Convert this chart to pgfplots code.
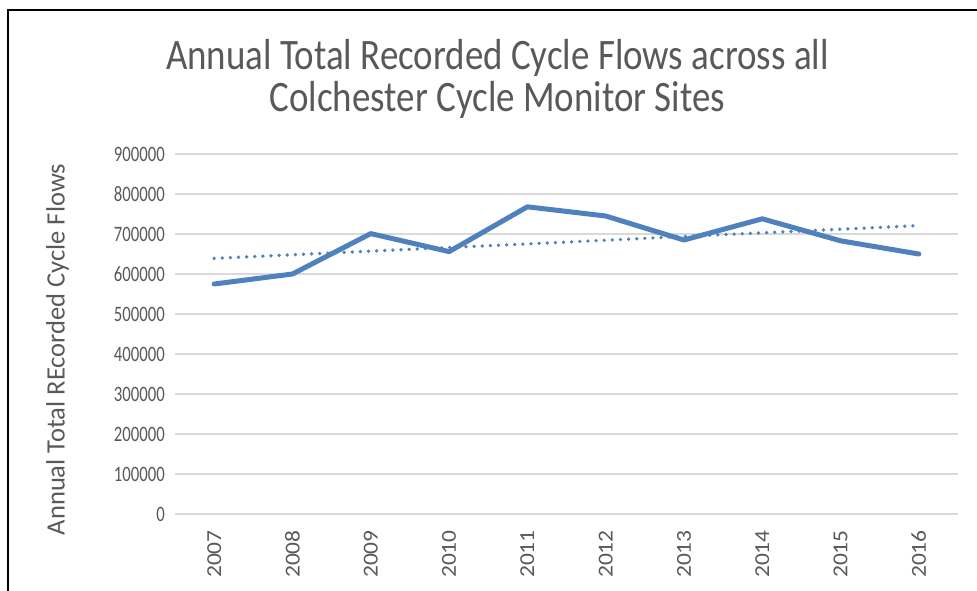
\documentclass[border=0pt]{standalone}
\usepackage{pgfplots}
\pgfplotsset{compat=1.18}
\usepackage{fontspec}
\setmainfont{Carlito}
\newfontfamily\titlefont[FakeStretch=0.85]{Carlito}
\newfontfamily\yfont[FakeStretch=0.76]{Carlito}
\newfontfamily\xfont[FakeStretch=1.1]{Carlito}
\definecolor{txt}{HTML}{595959}
\definecolor{ln}{HTML}{4F81BD}
\definecolor{grd}{HTML}{D9D9D9}
\pgfplotstableread{
x y
0 575000
1 600000
2 701000
3 656000
4 768000
5 745000
6 685000
7 738000
8 683000
9 650000
}\flows
\pgfplotstableread{
x y
0 639000
9 721000
}\trend
\begin{document}
\begin{tikzpicture}
\useasboundingbox (0pt,0pt) rectangle (732.75pt,442.5pt);
\draw[black, line width=1.6pt] (6pt,-30pt) rectangle (760pt,435pt);
\node[anchor=base, text=txt, font=\titlefont\fontsize{32.6pt}{34pt}\selectfont] at (373.1pt,390pt) {Annual Total Recorded Cycle Flows across all};
\node[anchor=base, text=txt, font=\titlefont\fontsize{32.6pt}{34pt}\selectfont] at (373.1pt,358.5pt) {Colchester Cycle Monitor Sites};
\node[rotate=90, text=txt, font=\fontsize{19.9pt}{22pt}\selectfont] at (43.1pt,180.4pt) {Annual Total REcorded Cycle Flows};
\begin{axis}[
  at={(131.25pt,57pt)}, anchor=south west,
  scale only axis, width=587.25pt, height=270pt,
  xmin=-0.5, xmax=9.5, ymin=0, ymax=900000,
  xtick={0,...,9},
  xticklabels={2007,2008,2009,2010,2011,2012,2013,2014,2015,2016},
  ytick={0,100000,200000,300000,400000,500000,600000,700000,800000,900000},
  scaled y ticks=false,
  /pgf/number format/.cd, fixed, 1000 sep={}, assume math mode=true,
  /pgfplots/.cd,
  ymajorgrids, grid style={grd, line width=1.1pt},
  axis line style={draw=none},
  major tick length=0pt,
  yticklabel style={font=\yfont\fontsize{16.5pt}{18pt}\selectfont, text=txt, inner sep=0pt, anchor=east},
  yticklabel shift=7.5pt,
  xticklabel style={font=\xfont\fontsize{16pt}{18pt}\selectfont, text=txt, inner sep=0pt, rotate=90, anchor=east},
  xticklabel shift=12pt,
  clip=false,
]
\addplot[ln, line width=3.75pt, line join=round, line cap=round] table[x=x,y=y] {\flows};
\addplot[ln, line width=2.8pt, line cap=round, dash pattern=on 0pt off 6.1pt] table[x=x,y=y] {\trend};
\end{axis}
\end{tikzpicture}
\end{document}
